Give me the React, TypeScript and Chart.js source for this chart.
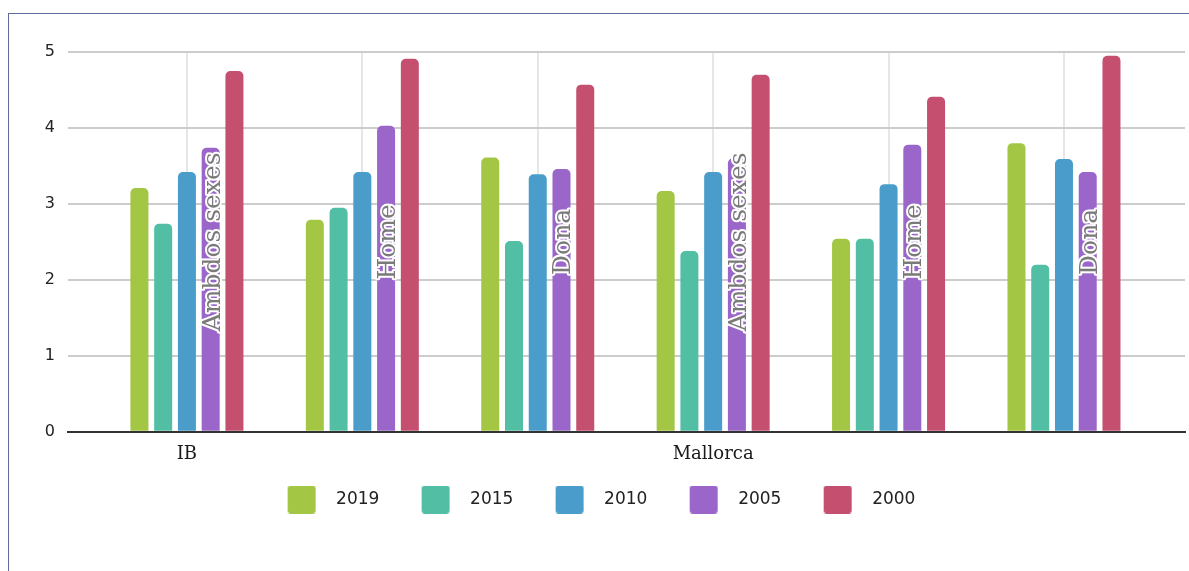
import React, { useEffect, useRef } from 'react';
import { Chart, registerables } from 'chart.js';

Chart.register(...registerables);

// ---- data ----
const categories = ['IB', '', '', 'Mallorca', '', ''];
const groupLabels = ['Ambdos sexes', 'Home', 'Dona', 'Ambdos sexes', 'Home', 'Dona'];
const seriesNames = ['2019', '2015', '2010', '2005', '2000'];
const v2019 = [3.21, 2.79, 3.61, 3.17, 2.54, 3.8];
const v2015 = [2.74, 2.95, 2.51, 2.38, 2.54, 2.2];
const v2010 = [3.42, 3.42, 3.39, 3.42, 3.26, 3.59];
const v2005 = [3.74, 4.03, 3.46, 3.6, 3.78, 3.42];
const v2000 = [4.75, 4.91, 4.57, 4.7, 4.41, 4.95];
const yTicks = [0, 1, 2, 3, 4, 5];
const labelAnchorValue = 2.5;

const seriesValues = [v2019, v2015, v2010, v2005, v2000];
const seriesColors = ['#a3c644', '#52bfa4', '#4a9dcb', '#9b66c9', '#c44f6f'];

const groupLabelPlugin = {
  id: 'groupLabels',
  afterDatasetsDraw(chart: any) {
    const meta = chart.getDatasetMeta(3);
    const y = chart.scales.y.getPixelForValue(labelAnchorValue);
    const ctx = chart.ctx;
    ctx.save();
    ctx.font = '25px "DejaVu Serif"';
    ctx.textAlign = 'center';
    ctx.textBaseline = 'alphabetic';
    ctx.lineJoin = 'round';
    meta.data.forEach((el: any, i: number) => {
      ctx.save();
      ctx.translate(el.x + 9, y);
      ctx.rotate(-Math.PI / 2);
      ctx.strokeStyle = '#ffffff';
      ctx.lineWidth = 4;
      ctx.strokeText(groupLabels[i], 0, 0);
      ctx.fillStyle = '#7a7a7a';
      ctx.fillText(groupLabels[i], 0, 0);
      ctx.restore();
    });
    ctx.restore();
  },
};

function makeSwatch(color: string) {
  const cv = document.createElement('canvas');
  cv.width = 50;
  cv.height = 28;
  const g = cv.getContext('2d')!;
  g.fillStyle = color;
  g.beginPath();
  if ((g as any).roundRect) (g as any).roundRect(10, 0, 28, 28, 3);
  else g.rect(10, 0, 28, 28);
  g.fill();
  return cv;
}

export default function App() {
  const canvasRef = useRef<HTMLCanvasElement | null>(null);

  useEffect(() => {
    if (!canvasRef.current) return;
    const swatches = seriesColors.map(makeSwatch);
    const chart = new Chart(canvasRef.current, {
      type: 'bar',
      data: {
        datasets: seriesNames.map((name, si) => ({
          label: name,
          data: seriesValues[si].map((v, i) => ({ x: i, y: v })),
          backgroundColor: seriesColors[si],
          borderWidth: 0,
          borderRadius: 5,
          borderSkipped: 'start' as const,
          categoryPercentage: 0.677,
          barPercentage: 0.758,
        })),
      },
      options: {
        animation: false,
        responsive: false,
        maintainAspectRatio: false,
        layout: { padding: { left: 8, right: 4, top: 52, bottom: 53 } },
        plugins: {
          tooltip: { enabled: false },
          legend: {
            position: 'bottom',
            labels: {
              usePointStyle: true,
              pointStyleWidth: 50,
              padding: 32.25,
              color: '#222222',
              font: { family: '"DejaVu Sans"', size: 17 },
              generateLabels: (c: any) =>
                (Chart as any).defaults.plugins.legend.labels
                  .generateLabels(c)
                  .map((it: any) => ({ ...it, pointStyle: swatches[it.datasetIndex] })),
            },
          },
        },
        scales: {
          x: {
            type: 'linear',
            offset: false,
            min: -0.678,
            max: 5.69,
            afterFit: (s: any) => {
              s.height = 27;
              s._computeLabelArea = () => undefined;
            },
            afterBuildTicks: (s: any) => {
              s.ticks = categories.map((_, i) => ({ value: i }));
            },
            ticks: {
              autoSkip: false,
              maxRotation: 0,
              padding: 12,
              color: '#1a1a1a',
              font: { family: '"DejaVu Serif"', size: 18 },
              callback: (value: any) => {
                const i = Math.round(Number(value));
                return i >= 0 && i < categories.length ? categories[i] : '';
              },
            },
            grid: {
              offset: false,
              color: '#e6e6e6',
              lineWidth: 2,
              drawTicks: false,
            },
            border: { color: '#333333', width: 2 },
          },
          y: {
            min: yTicks[0],
            max: yTicks[yTicks.length - 1],
            afterFit: (s: any) => {
              s.width = 60;
            },
            afterBuildTicks: (s: any) => {
              s.ticks = yTicks.map((v) => ({ value: v }));
            },
            ticks: {
              padding: 13,
              color: '#222222',
              font: { family: '"DejaVu Sans"', size: 16 },
            },
            grid: {
              color: (c: any) => (c.tick && c.tick.value === 0 ? 'rgba(0,0,0,0)' : '#cccccc'),
              lineWidth: 2,
              drawTicks: false,
            },
            border: { display: false },
          },
        },
      },
      plugins: [groupLabelPlugin],
    });
    return () => chart.destroy();
  }, []);

  return (
    <>
      <div
        style={{
          position: 'absolute',
          left: 8,
          top: 13,
          width: 1181,
          height: 558,
          borderTop: '1px solid #5e6b9b',
          borderLeft: '1px solid #5e6b9b',
          boxSizing: 'border-box',
        }}
      />
      <canvas
        ref={canvasRef}
        width={1189}
        height={571}
        style={{ position: 'absolute', left: 0, top: 0, width: 1189, height: 571 }}
      />
    </>
  );
}
